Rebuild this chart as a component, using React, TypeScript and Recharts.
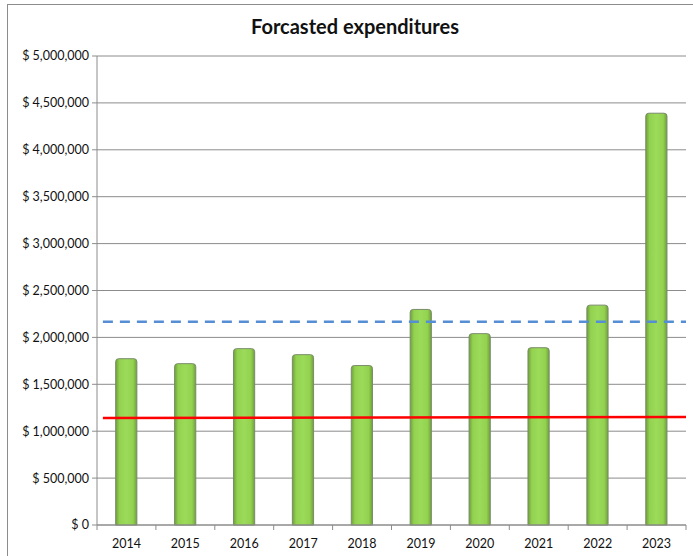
import { Bar, CartesianGrid, ComposedChart, Line, XAxis, YAxis } from "recharts";

const years = ["2014", "2015", "2016", "2017", "2018", "2019", "2020", "2021", "2022", "2023"];
const expenditures = [1773000, 1720000, 1880000, 1816000, 1700000, 2298000, 2040000, 1890000, 2344000, 4390000];
const yTicks = [0, 500000, 1000000, 1500000, 2000000, 2500000, 3000000, 3500000, 4000000, 4500000, 5000000];
const lineX = [-0.4, 9.5];
const averageLine = [2167000, 2167000];
const trendLine = [1140000, 1152000];

const barRows = years.map((year, i) => ({ x: i, year, value: expenditures[i] }));
const averageRows = lineX.map((x, i) => ({ x, y: averageLine[i] }));
const trendRows = lineX.map((x, i) => ({ x, y: trendLine[i] }));
const xTicks = Array.from({ length: 21 }, (_, i) => -0.5 + i * 0.5);

const FONT = "Lato, 'Open Sans', sans-serif";

function formatDollar(v: number) {
  return "$ " + v.toLocaleString("en-US");
}

function YearTick({ x, y, payload }: { x?: number; y?: number; payload?: { value: number } }) {
  const v = payload?.value ?? 0;
  if (Number.isInteger(v)) {
    return (
      <text x={x} y={(y ?? 0) + 23} textAnchor="middle" fill="#111" fontSize={12.5} fontFamily={FONT}>
        {years[v]}
      </text>
    );
  }
  return <line x1={x} x2={x} y1={y} y2={(y ?? 0) + 5} stroke="#8c8c8c" />;
}

export default function App() {
  return (
    <div style={{ position: "absolute", left: 0, top: 0, width: 693, height: 556, overflow: "hidden", background: "#fff" }}>
      <div
        style={{
          position: "absolute",
          left: 7,
          top: 4,
          width: 720,
          height: 600,
          borderLeft: "1px solid #8c8c8c",
          borderTop: "1px solid #8c8c8c",
        }}
      />
      <div
        style={{
          position: "absolute",
          top: 14,
          left: 0,
          width: 710,
          textAlign: "center",
          fontFamily: FONT,
          fontWeight: 700,
          fontSize: 20,
          color: "#111",
        }}
      >
        Forcasted expenditures
      </div>
      <div style={{ position: "absolute", left: 0, top: 0 }}>
        <ComposedChart width={693} height={556} data={barRows} margin={{ top: 56, right: 7, bottom: 6, left: 0 }}>
          <defs>
            <linearGradient id="barFill" x1="0" y1="0" x2="1" y2="0">
              <stop offset="0%" stopColor="#6f9f3c" />
              <stop offset="18%" stopColor="#93d24f" />
              <stop offset="50%" stopColor="#9cdb5a" />
              <stop offset="82%" stopColor="#93d24f" />
              <stop offset="100%" stopColor="#6f9f3c" />
            </linearGradient>
          </defs>
          <CartesianGrid horizontal vertical={false} stroke="#8c8c8c" />
          <XAxis
            dataKey="x"
            type="number"
            domain={[-0.5, 9.5]}
            ticks={xTicks}
            interval={0}
            tick={<YearTick />}
            tickLine={false}
            tickSize={0}
            tickMargin={0}
            height={25}
            axisLine={{ stroke: "#8c8c8c" }}
          />
          <YAxis
            domain={[0, 5000000]}
            ticks={yTicks}
            interval={0}
            width={97}
            tickFormatter={formatDollar}
            tick={{ fill: "#111", fontSize: 12.5, fontFamily: FONT }}
            tickLine={{ stroke: "#8c8c8c" }}
            tickSize={5}
            tickMargin={3}
            axisLine={{ stroke: "#8c8c8c" }}
          />
          <Bar
            dataKey="value"
            barSize={24}
            fill="url(#barFill)"
            stroke="#7a8c6a"
            strokeWidth={1}
            radius={[3, 3, 0, 0]}
            isAnimationActive={false}
          />
          <Line
            data={averageRows}
            dataKey="y"
            type="linear"
            stroke="#558ed5"
            strokeWidth={2.5}
            strokeDasharray="10 7"
            dot={false}
            activeDot={false}
            isAnimationActive={false}
          />
          <Line
            data={trendRows}
            dataKey="y"
            type="linear"
            stroke="#ff0000"
            strokeWidth={2.5}
            dot={false}
            activeDot={false}
            isAnimationActive={false}
          />
        </ComposedChart>
      </div>
    </div>
  );
}
